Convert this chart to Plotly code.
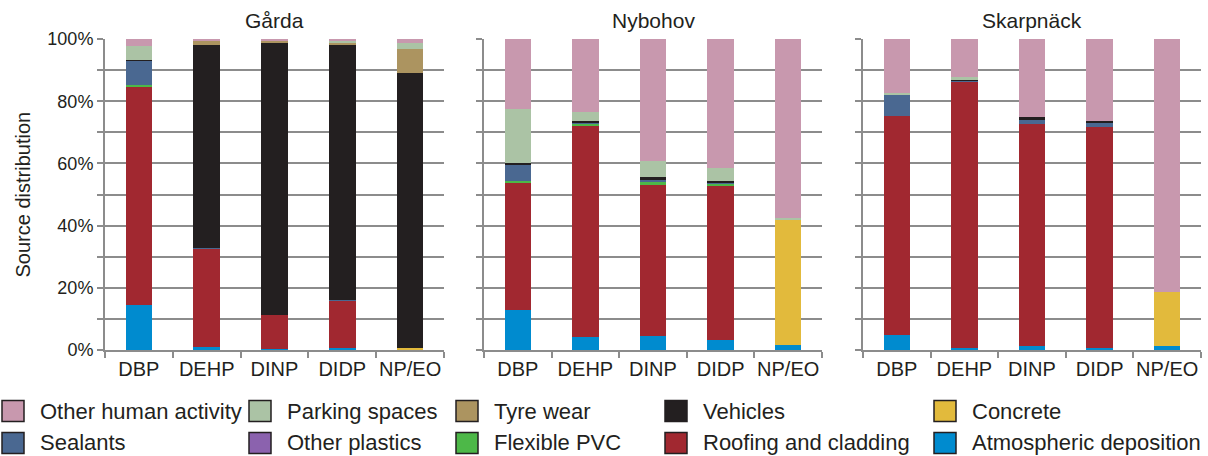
import plotly.graph_objects as go

# ---------------- data ----------------
sites = ["Gårda", "Nybohov", "Skarpnäck"]
categories = ["DBP", "DEHP", "DINP", "DIDP", "NP/EO"]

# Stack order, bottom to top
series_names = [
    "Atmospheric deposition", "Concrete", "Roofing and cladding", "Flexible PVC",
    "Other plastics", "Sealants", "Vehicles", "Tyre wear", "Parking spaces",
    "Other human activity",
]

# Values (%) per series: Gårda (5), Nybohov (5), Skarpnäck (5)
atmospheric = [14.5, 1.0, 0.4, 0.8, 0.3,   12.9, 4.1, 4.6, 3.3, 1.6,   4.9, 0.8, 1.2, 0.8, 1.2]
concrete    = [0, 0, 0, 0, 0.4,            0, 0, 0, 0, 40.5,           0, 0, 0, 0, 17.3]
roofing     = [70.0, 31.6, 10.9, 15.1, 0,  41.1, 68.2, 48.7, 49.6, 0,  70.2, 85.4, 71.4, 70.9, 0]
flex_pvc    = [0.7, 0, 0, 0, 0,            0.3, 0.4, 0.6, 0.6, 0,      0, 0, 0, 0, 0]
other_plast = [0, 0, 0, 0, 0,              0, 0, 0, 0, 0,              0, 0, 0, 0, 0]
sealants    = [7.8, 0.3, 0, 0.2, 0,        5.3, 0.3, 1.0, 0.4, 0,      7.1, 0.3, 1.6, 1.3, 0]
vehicles    = [0.3, 65.3, 87.6, 82.1, 88.3, 0.6, 0.6, 0.6, 0.5, 0,     0, 0.6, 0.6, 0.6, 0]
tyre_wear   = [0, 1.0, 0.5, 0.8, 7.8,      0, 0, 0, 0, 0,              0, 0, 0, 0, 0]
parking     = [4.6, 0, 0, 0.4, 2.0,        17.3, 2.9, 5.2, 4.0, 0.3,   0.4, 0.6, 0, 0, 0]
other_human = [2.1, 0.8, 0.6, 0.6, 1.2,    22.5, 23.5, 39.3, 41.6, 57.6, 17.4, 12.3, 25.2, 26.4, 81.5]

series_values = [atmospheric, concrete, roofing, flex_pvc, other_plast,
                 sealants, vehicles, tyre_wear, parking, other_human]

y_tickvals = [0, 20, 40, 60, 80, 100]
y_ticktext = ["0%", "20%", "40%", "60%", "80%", "100%"]

# legend layout (column-wise: top, bottom)
legend_columns = [
    ["Other human activity", "Sealants"],
    ["Parking spaces", "Other plastics"],
    ["Tyre wear", "Flexible PVC"],
    ["Vehicles", "Roofing and cladding"],
    ["Concrete", "Atmospheric deposition"],
]

# ---------------- style ----------------
colors = {
    "Other human activity": "#C898AE",
    "Parking spaces": "#ABC3A5",
    "Tyre wear": "#AC9460",
    "Vehicles": "#231F20",
    "Concrete": "#E2BA3C",
    "Sealants": "#4A6891",
    "Other plastics": "#8B62AE",
    "Flexible PVC": "#4DB848",
    "Roofing and cladding": "#A12830",
    "Atmospheric deposition": "#008BCF",
}
FONT = "Liberation Sans, Arial, sans-serif"
TXT = "#231F20"
GRID = "#8C8C8C"

W, H = 1208, 456
L, R, T, B = 105, 1201, 39, 350  # plot area in pixels
domains = [(105, 444), (484, 822), (863, 1201)]


def px_x(px):
    return (px - L) / (R - L)


def px_y(py):
    return (B - py) / (B - T)


fig = go.Figure()
n = len(categories)
for si, site in enumerate(sites):
    xa = "x" if si == 0 else f"x{si + 1}"
    ya = "y" if si == 0 else f"y{si + 1}"
    for name, vals in zip(series_names, series_values):
        fig.add_trace(go.Bar(
            x=categories, y=vals[si * n:(si + 1) * n], name=name,
            marker=dict(color=colors[name], line=dict(width=0)),
            xaxis=xa, yaxis=ya, showlegend=False,
        ))

layout = dict(
    width=W, height=H, barmode="stack", bargap=0.61,
    margin=dict(l=L, r=W - R, t=T, b=H - B),
    plot_bgcolor="white", paper_bgcolor="white",
    font=dict(family=FONT, color=TXT),
    showlegend=False,
)
for si in range(3):
    k = "" if si == 0 else str(si + 1)
    d0, d1 = domains[si]
    layout[f"xaxis{k}"] = dict(
        domain=[px_x(d0), px_x(d1)], anchor=f"y{k}", type="category",
        showline=True, linecolor=GRID, linewidth=2, tickangle=0,
        ticks="outside", tickson="boundaries", ticklen=6, tickcolor=GRID, tickwidth=1.5,
        tickfont=dict(size=20, family=FONT, color=TXT), showgrid=False,
    )
    layout[f"yaxis{k}"] = dict(
        anchor=f"x{k}", range=[0, 100], tickvals=y_tickvals, ticktext=y_ticktext,
        showticklabels=(si == 0), tickfont=dict(size=18, family=FONT, color=TXT),
        showline=True, linecolor=GRID, linewidth=2,
        ticks="outside", ticklen=6, tickcolor=GRID, tickwidth=1.5,
        showgrid=True, gridcolor=GRID, gridwidth=2, zeroline=False,
        minor=dict(dtick=10, showgrid=True, gridcolor=GRID, gridwidth=2,
                   ticks="outside", ticklen=6, tickcolor=GRID, tickwidth=1.5),
    )
fig.update_layout(**layout)

annotations = []
shapes = []
for si, site in enumerate(sites):
    d0, d1 = domains[si]
    annotations.append(dict(
        text=site, x=px_x((d0 + d1) / 2), y=px_y(21), xref="paper", yref="paper",
        xanchor="center", yanchor="middle", showarrow=False,
        font=dict(size=21, family=FONT, color=TXT)))
annotations.append(dict(
    text="Source distribution", x=px_x(22), y=px_y(194.5), xref="paper", yref="paper",
    textangle=-90, xanchor="center", yanchor="middle", showarrow=False,
    font=dict(size=20, family=FONT, color=TXT)))

sym_left = [2, 249, 456, 665, 934]
row_center = [411, 443]
for ci, col in enumerate(legend_columns):
    for ri, name in enumerate(col):
        x0 = sym_left[ci]
        yc = row_center[ri]
        shapes.append(dict(
            type="rect", xref="paper", yref="paper",
            x0=px_x(x0), x1=px_x(x0 + 22), y0=px_y(yc + 10.5), y1=px_y(yc - 10.5),
            fillcolor=colors[name], line=dict(color=TXT, width=1.5)))
        annotations.append(dict(
            text=name, x=px_x(x0 + 36), y=px_y(yc), xref="paper", yref="paper",
            xanchor="left", yanchor="middle", showarrow=False,
            font=dict(size=22, family=FONT, color=TXT)))

fig.update_layout(annotations=annotations, shapes=shapes)
fig.write_html(
    "out.html",
    config={"displayModeBar": False},
    post_script="document.body.style.margin='0';document.body.style.overflow='hidden';",
)
